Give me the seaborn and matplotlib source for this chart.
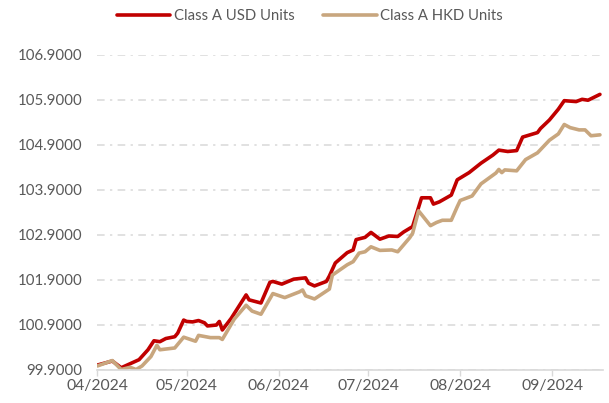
import pandas as pd
import matplotlib.pyplot as plt
import matplotlib.dates as mdates
import seaborn as sns

# NAV per unit
usd_dates = ["2024-04-01", "2024-04-06", "2024-04-09", "2024-04-13", "2024-04-15", "2024-04-18",
             "2024-04-20", "2024-04-22", "2024-04-24", "2024-04-27", "2024-04-28", "2024-04-30",
             "2024-05-01", "2024-05-03", "2024-05-05", "2024-05-07", "2024-05-08", "2024-05-11",
             "2024-05-12", "2024-05-13", "2024-05-16", "2024-05-21", "2024-05-22", "2024-05-26",
             "2024-05-29", "2024-05-30", "2024-06-02", "2024-06-06", "2024-06-10", "2024-06-11",
             "2024-06-13", "2024-06-17", "2024-06-18", "2024-06-20", "2024-06-24", "2024-06-26",
             "2024-06-27", "2024-06-30", "2024-07-02", "2024-07-05", "2024-07-08", "2024-07-11",
             "2024-07-13", "2024-07-16", "2024-07-19", "2024-07-22", "2024-07-23", "2024-07-25",
             "2024-07-29", "2024-07-31", "2024-08-04", "2024-08-08", "2024-08-12", "2024-08-14",
             "2024-08-17", "2024-08-20", "2024-08-22", "2024-08-27", "2024-08-28", "2024-08-31",
             "2024-09-03", "2024-09-05", "2024-09-09", "2024-09-11", "2024-09-13", "2024-09-17"]
usd_nav = [100.00, 100.09, 99.94, 100.06, 100.12, 100.34,
           100.54, 100.52, 100.59, 100.63, 100.71, 101.00,
           100.97, 100.96, 100.99, 100.94, 100.87, 100.89,
           100.97, 100.78, 101.04, 101.56, 101.45, 101.38,
           101.84, 101.86, 101.80, 101.91, 101.94, 101.82,
           101.76, 101.86, 101.98, 102.27, 102.50, 102.56,
           102.79, 102.84, 102.95, 102.80, 102.87, 102.86,
           102.96, 103.08, 103.72, 103.72, 103.58, 103.63,
           103.78, 104.12, 104.28, 104.49, 104.67, 104.78,
           104.75, 104.77, 105.07, 105.17, 105.26, 105.45,
           105.69, 105.88, 105.86, 105.91, 105.89, 106.02]

hkd_dates = ["2024-04-01", "2024-04-06", "2024-04-09", "2024-04-12", "2024-04-14", "2024-04-16",
             "2024-04-19", "2024-04-21", "2024-04-22", "2024-04-27", "2024-04-30", "2024-05-04",
             "2024-05-05", "2024-05-09", "2024-05-12", "2024-05-13", "2024-05-17", "2024-05-21",
             "2024-05-23", "2024-05-26", "2024-05-30", "2024-06-03", "2024-06-08", "2024-06-09",
             "2024-06-10", "2024-06-13", "2024-06-18", "2024-06-19", "2024-06-24", "2024-06-26",
             "2024-06-28", "2024-06-30", "2024-07-02", "2024-07-05", "2024-07-09", "2024-07-11",
             "2024-07-15", "2024-07-16", "2024-07-18", "2024-07-22", "2024-07-24", "2024-07-26",
             "2024-07-29", "2024-07-31", "2024-08-01", "2024-08-05", "2024-08-08", "2024-08-13",
             "2024-08-14", "2024-08-15", "2024-08-16", "2024-08-20", "2024-08-23", "2024-08-27",
             "2024-08-31", "2024-09-03", "2024-09-05", "2024-09-07", "2024-09-10", "2024-09-12",
             "2024-09-14", "2024-09-17"]
hkd_nav = [99.98, 100.10, 99.90, 99.95, 99.90, 99.98,
           100.19, 100.44, 100.34, 100.38, 100.62, 100.53,
           100.66, 100.61, 100.61, 100.57, 101.02, 101.33,
           101.20, 101.13, 101.59, 101.50, 101.63, 101.67,
           101.54, 101.47, 101.69, 102.00, 102.23, 102.30,
           102.49, 102.52, 102.63, 102.55, 102.56, 102.52,
           102.83, 102.93, 103.43, 103.10, 103.17, 103.22,
           103.22, 103.52, 103.66, 103.76, 104.03, 104.27,
           104.35, 104.28, 104.34, 104.32, 104.57, 104.72,
           105.00, 105.14, 105.35, 105.28, 105.23, 105.23,
           105.10, 105.12]

series_names = ["Class A USD Units", "Class A HKD Units"]
colors = ["#C00000", "#C8A67E"]
y_ticks = [99.9, 100.9, 101.9, 102.9, 103.9, 104.9, 105.9, 106.9]

df = pd.concat([
    pd.DataFrame({"date": pd.to_datetime(usd_dates), "nav": usd_nav, "series": series_names[0]}),
    pd.DataFrame({"date": pd.to_datetime(hkd_dates), "nav": hkd_nav, "series": series_names[1]}),
])

sns.set_style("white")
plt.rcParams["font.family"] = ["Lato", "DejaVu Sans"]

fig = plt.figure(figsize=(6.09, 4.03), dpi=100)
ax = fig.add_axes([0.160, 0.083, 0.830, 0.781])

sns.lineplot(data=df, x="date", y="nav", hue="series", palette=colors,
             linewidth=2.6, legend=False, ax=ax)

ax.set_ylim(y_ticks[0], y_ticks[-1])
ax.set_yticks(y_ticks)
ax.yaxis.set_major_formatter(plt.FuncFormatter(lambda v, p: f"{v:.4f}"))
ax.set_xlim(pd.Timestamp("2024-04-01"), pd.Timestamp("2024-09-18"))
ax.xaxis.set_major_locator(mdates.MonthLocator())
ax.xaxis.set_major_formatter(mdates.DateFormatter("%m/%Y"))

ax.grid(axis="y", color="#D9D9D9", linewidth=1.1, linestyle=(0, (5, 3.5, 1.5, 3.5)))
ax.grid(axis="x", visible=False)
for s in ["left", "right", "top"]:
    ax.spines[s].set_visible(False)
ax.spines["bottom"].set_color("#D9D9D9")
ax.spines["bottom"].set_linewidth(1.2)
ax.tick_params(axis="x", colors="#595959", labelsize=11.3, length=4, width=1,
               color="#D9D9D9", pad=3, bottom=True)
ax.tick_params(axis="y", colors="#595959", labelsize=10.8, length=0, pad=11)
ax.set_xlabel("")
ax.set_ylabel("")

handles = ax.get_lines()[:2]
fig.legend(handles, series_names, loc="center", bbox_to_anchor=(0.509, 0.961), ncol=2,
           frameon=False, fontsize=10.7, labelcolor="#595959", handlelength=3.6,
           handletextpad=0.25, columnspacing=1.9)

fig.savefig("out.png", dpi=100)
